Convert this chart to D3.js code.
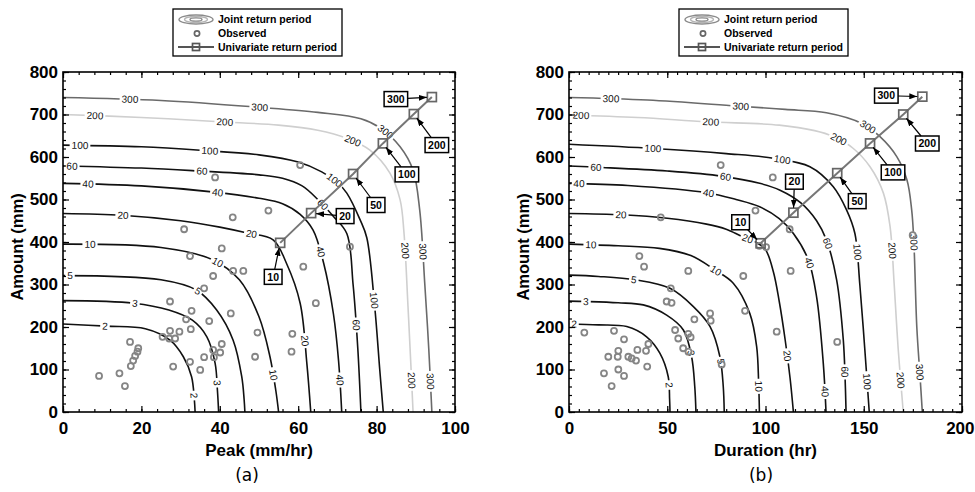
<!DOCTYPE html>
<html>
<head>
  <title>Joint return period contours</title>
  <style type="text/css">
    body { margin: 0; background: #fff; }
    svg { display: block; font-family: "Liberation Sans", Arial, sans-serif; }
  </style>
</head>
<body>

<div id="chart"></div>

<script src="https://cdn.jsdelivr.net/npm/d3@7/dist/d3.min.js"></script>
<script type="text/javascript">
// ---- data ----
var amountTicks = [0, 100, 200, 300, 400, 500, 600, 700, 800];
var peakTicks = [0, 20, 40, 60, 80, 100];
var durationTicks = [0, 50, 100, 150, 200];

var contourLevels = [2, 3, 5, 10, 20, 40, 60, 100, 200, 300];

// (a) peak (mm/hr) vs amount (mm), one line per level
var peakContours = [
  [[0,207],[11,202],[21,196],[27.3,169],[30.7,130],[32.8,83],[33.5,30],[33.7,0]],
  [[0,262],[18,256],[27,240],[33,216],[36.7,177],[38.8,115],[39.4,50],[39.7,0]],
  [[0,321],[25,311],[34,287],[39.2,240],[43.4,169],[45.6,83],[46.2,30],[46.4,0]],
  [[0,395],[25,387],[38,359],[45,311],[50,224],[52.8,130],[54.3,50],[55,0]],
  [[0,467],[15,463],[30,450],[40,435],[47,421],[53.6,405],[57,350],[60.5,256],[62.2,115],[63.2,0]],
  [[0,538],[20,532],[38,518],[50,503],[56,490],[60.5,465],[63.8,428],[66.5,350],[69,230],[70.3,120],[71.1,0]],
  [[0,579],[20,574],[33,568],[50,558],[56,550],[61,532],[65,500],[69,460],[72.4,420],[74,300],[75.2,150],[76,0]],
  [[0,628],[20,624],[35,616],[50,605],[60,588],[66,565],[70,540],[72.4,515],[75.8,452],[77.5,410],[79.5,250],[80.8,100],[81.7,0]],
  [[0,700],[20,693],[40,683],[55,675],[65,663],[72.4,644],[78.3,616],[83.4,562],[86,499],[87,420],[88,250],[88.8,100],[89.3,0]],
  [[0,740],[25,733],[50,717],[65,705],[76,690],[81,668],[86,624],[89.3,569],[91,475],[92.3,300],[93.3,150],[94.1,0]]
];

// (b) duration (hr) vs amount (mm)
var durationContours = [
  [[0,207],[15,205],[29.4,201],[39.5,177],[46.3,138],[50.5,83],[51.2,30],[51.4,0]],
  [[0,261],[9,260],[25,257],[37.8,252],[49.7,228],[58.2,193],[62.4,130],[64,60],[64.6,0]],
  [[0,322],[15,319],[33.6,311],[51.4,291],[63.3,248],[71.8,201],[76.8,130],[78.5,60],[79,0]],
  [[0,395],[25,391],[46,385],[62,368],[74.3,334],[83.6,303],[92,232],[95.5,154],[96.5,70],[96.9,0]],
  [[0,467],[27,464],[50,456],[70,442],[80,430],[88,413],[95,400],[100,382],[104,330],[107,260],[110,170],[112.5,80],[114.2,0]],
  [[0,538],[30,533],[70,516],[85,500],[97,483],[107,455],[114.2,420],[121.8,358],[126,271],[129.4,115],[130.8,0]],
  [[0,579],[14,576],[50,567],[77.7,555],[97,538],[107.4,522],[118,492],[126,450],[131,405],[136.2,311],[139.6,169],[140.5,80],[141,0]],
  [[0,630],[43,620],[80,608],[104,597],[122.6,577],[134.5,530],[141.3,475],[145.5,420],[148,300],[150.5,150],[152.8,0]],
  [[0,699],[35,693],[70,683],[107,675],[125,662],[134.5,648],[144.7,620],[153.2,577],[160,515],[163.4,436],[165.5,300],[167.5,150],[170.1,0]],
  [[0,740],[40,734],[85,720],[110,712],[131,704],[149,679],[158,649],[166.8,601],[172,546],[174.4,475],[175.5,400],[177,200],[178.7,80],[179.8,0]]
];

var peakObserved = [
  [40.5,385],[32.4,367],[43.4,332],[46,332],[38.3,320],[36,291],[27.3,260],[32.8,238],[31.4,218],
  [37.3,214],[42.8,232],[27.3,191],[32.6,195],[29.7,189],[25.4,177],[27.1,173],[28.6,173],[49.6,187],
  [17.1,165],[40.5,160],[19.2,150],[38.3,146],[19,142],[40.1,140],[38.5,129],[18.4,132],[36,129],
  [49,130],[17.9,121],[32.4,118],[17.3,108],[28.1,107],[35,99],[14.4,91],[9.2,85],[15.8,61],
  [38.8,552],[52.4,474],[43.3,458],[30.9,430],[60.5,581],[73.2,389],[61.3,342],[64.5,256],[58.5,184],[58.3,142]
];

var durationObserved = [
  [35.8,367],[38.2,342],[60.7,332],[88.7,320],[51.8,291],[49.7,260],[52.2,257],[71.8,232],[72.1,215],
  [63.8,218],[89.6,238],[105.7,189],[7.8,187],[22.9,191],[28,171],[54,193],[55.6,173],[60.7,184],
  [61.9,176],[40.4,160],[39.2,144],[34.8,146],[25.1,144],[58.1,150],[60.8,142],[20,130],[24.8,130],
  [30.2,130],[31.9,126],[34.1,121],[39.8,107],[25.1,100],[17.8,91],[28,85],[21.7,61],[77.7,112],
  [96.9,391],[100.3,388],[77.2,581],[103.7,552],[46.7,458],[94.9,474],[112.3,430],[174.9,416],[112.8,332],[136.5,165]
];

var univariateLevels = [10, 20, 50, 100, 200, 300];
var peakUnivariate = [[55.4,398],[63.3,468],[74,560],[81.6,632],[89.5,701],[94.1,741]];
var durationUnivariate = [[97.5,397],[114.2,469],[136.5,562],[153.2,632],[170.1,700],[179.8,742]];

// ---- layout ----
var plotTop = 72, plotBottom = 412;
var panels = [
  { left: 63, right: 455, xMax: 100, xTicks: peakTicks, xMinor: 4,
    xTitle: "Peak (mm/hr)", tag: "(a)", tagX: 247,
    contours: peakContours, observed: peakObserved, univariate: peakUnivariate,
    labelStart: [42, 72, 7, 27, 60, 25, 9, 17, 32, 67],
    callouts: [[-7,34],[34,3],[23,31],[24,31],[23,31],[-36,2]] },
  { left: 569, right: 962, xMax: 200, xTicks: durationTicks, xMinor: 5,
    xTitle: "Duration (hr)", tag: "(b)", tagX: 761,
    contours: durationContours, observed: durationObserved, univariate: durationUnivariate,
    labelStart: [5, 17, 65, 22, 52, 10, 27, 84, 12, 42],
    callouts: [[-20,-21],[1,-31],[20,28],[23,29],[24,29],[-36,-1]] }
];

function contourColor(lev) {
  if (lev === 300) return "#6a6a6a";
  if (lev === 200) return "#cfcfcf";
  return "#111";
}

var svg = d3.select("#chart")
  .append("svg")
  .attr("width", 975)
  .attr("height", 492);

var defs = svg.append("defs");
defs.append("marker")
    .attr("id", "arrow")
    .attr("markerUnits", "userSpaceOnUse")
    .attr("markerWidth", 8).attr("markerHeight", 6)
    .attr("refX", 8).attr("refY", 3)
    .attr("orient", "auto")
  .append("path")
    .attr("d", "M0,0L8,3L0,6Z")
    .attr("fill", "#000");

panels.forEach(function (p, i) {
  var off = p.left - 63;
  var x = d3.scaleLinear().domain([0, p.xMax]).range([p.left, p.right]);
  var y = d3.scaleLinear().domain([0, 800]).range([plotBottom, plotTop]);
  var g = svg.append("g");

  defs.append("clipPath").attr("id", "clip" + i)
    .append("rect")
      .attr("x", p.left).attr("y", plotTop)
      .attr("width", p.right - p.left).attr("height", plotBottom - plotTop);

  var plot = g.append("g").attr("clip-path", "url(#clip" + i + ")");
  var lines = plot.append("g");
  var labels = plot.append("g");

  var line = d3.line()
    .x(function (d) { return x(d[0]); })
    .y(function (d) { return y(d[1]); })
    .curve(d3.curveCatmullRom.alpha(0.5));

  contourLevels.forEach(function (lev, k) {
    var path = lines.append("path")
      .datum(p.contours[k])
      .attr("d", line)
      .attr("fill", "none")
      .attr("stroke", contourColor(lev))
      .attr("stroke-width", 1.6);
    var node = path.node();
    var len = node.getTotalLength();
    for (var s = p.labelStart[k]; s < len - 6; s += 130) {
      var a = node.getPointAtLength(Math.max(0, s - 3));
      var b = node.getPointAtLength(Math.min(len, s + 3));
      var c = node.getPointAtLength(s);
      var ang = Math.atan2(b.y - a.y, b.x - a.x) * 180 / Math.PI;
      var lg = labels.append("g")
        .attr("transform", "translate(" + c.x + "," + c.y + ")rotate(" + ang + ")");
      var rect = lg.append("rect").attr("fill", "#fff");
      var t = lg.append("text")
        .attr("text-anchor", "middle")
        .attr("dy", "0.35em")
        .attr("font-size", 10)
        .attr("fill", "#111")
        .text(lev);
      var tw = t.node().getComputedTextLength();
      rect.attr("x", -tw / 2 - 2).attr("y", -4.5).attr("width", tw + 4).attr("height", 9);
    }
  });

  // observed events
  g.append("g")
    .selectAll("circle")
    .data(p.observed)
    .join("circle")
      .attr("cx", function (d) { return x(d[0]); })
      .attr("cy", function (d) { return y(d[1]); })
      .attr("r", 3)
      .attr("fill", "none")
      .attr("stroke", "#858585")
      .attr("stroke-width", 1.8);

  // univariate return period
  g.append("path")
    .datum(p.univariate)
    .attr("d", d3.line().x(function (d) { return x(d[0]); }).y(function (d) { return y(d[1]); }))
    .attr("fill", "none")
    .attr("stroke", "#777")
    .attr("stroke-width", 2);
  g.append("g")
    .selectAll("rect")
    .data(p.univariate)
    .join("rect")
      .attr("x", function (d) { return x(d[0]) - 4.5; })
      .attr("y", function (d) { return y(d[1]) - 4.5; })
      .attr("width", 9).attr("height", 9)
      .attr("fill", "none")
      .attr("stroke", "#666")
      .attr("stroke-width", 1.7);

  // callout boxes
  var co = g.append("g");
  p.univariate.forEach(function (d, k) {
    var sx = x(d[0]), sy = y(d[1]);
    var bx = sx + p.callouts[k][0], by = sy + p.callouts[k][1];
    var rect = co.append("rect").attr("fill", "#fff").attr("stroke", "#000").attr("stroke-width", 1.5);
    var t = co.append("text")
      .attr("x", bx).attr("y", by).attr("dy", "0.36em")
      .attr("text-anchor", "middle")
      .attr("font-size", 10.5).attr("font-weight", "bold")
      .text(univariateLevels[k]);
    var w = t.node().getComputedTextLength() + 6, h = 15;
    rect.attr("x", bx - w / 2).attr("y", by - h / 2).attr("width", w).attr("height", h);
    var vx = sx - bx, vy = sy - by, vl = Math.sqrt(vx * vx + vy * vy);
    var tt = Math.min(vx ? (w / 2) / Math.abs(vx) : 1e9, vy ? (h / 2) / Math.abs(vy) : 1e9);
    co.append("line")
      .attr("x1", bx + vx * tt).attr("y1", by + vy * tt)
      .attr("x2", sx - vx / vl * 5).attr("y2", sy - vy / vl * 5)
      .attr("stroke", "#000").attr("stroke-width", 1.2)
      .attr("marker-end", "url(#arrow)");
  });

  // axes and frame
  var axes = g.append("g");
  var minorX = d3.range(0, p.xMax + 1e-9, p.xMinor);
  var minorY = d3.range(0, 800 + 1e-9, 20);
  var bottomAxis = axes.append("g").attr("transform", "translate(0," + plotBottom + ")")
    .call(d3.axisBottom(x).tickValues(p.xTicks).tickSize(-6).tickPadding(10).tickFormat(d3.format("d")));
  axes.append("g").attr("transform", "translate(0," + plotBottom + ")")
    .call(d3.axisBottom(x).tickValues(minorX).tickSize(-3).tickFormat(""));
  axes.append("g").attr("transform", "translate(0," + plotTop + ")")
    .call(d3.axisTop(x).tickValues(p.xTicks).tickSize(-6).tickFormat(""));
  axes.append("g").attr("transform", "translate(0," + plotTop + ")")
    .call(d3.axisTop(x).tickValues(minorX).tickSize(-3).tickFormat(""));
  axes.append("g").attr("transform", "translate(" + p.left + ",0)")
    .call(d3.axisLeft(y).tickValues(amountTicks).tickSize(-6).tickPadding(5).tickFormat(d3.format("d")));
  axes.append("g").attr("transform", "translate(" + p.left + ",0)")
    .call(d3.axisLeft(y).tickValues(minorY).tickSize(-3).tickFormat(""));
  axes.append("g").attr("transform", "translate(" + p.right + ",0)")
    .call(d3.axisRight(y).tickValues(amountTicks).tickSize(-6).tickFormat(""));
  axes.append("g").attr("transform", "translate(" + p.right + ",0)")
    .call(d3.axisRight(y).tickValues(minorY).tickSize(-3).tickFormat(""));
  axes.selectAll(".domain").remove();
  axes.selectAll("line").attr("stroke", "#000").attr("stroke-width", 1.2);
  axes.selectAll("text")
    .attr("font-size", 17).attr("font-weight", "bold")
    .attr("font-family", "'Liberation Sans', Arial, sans-serif")
    .attr("fill", "#000");
  // keep the last x tick label inside the window
  bottomAxis.selectAll(".tick text")
    .filter(function (d) { return x(d) + 15 > 975; })
    .attr("text-anchor", "end").attr("x", function (d) { return 975 - 1 - x(d); });

  g.append("rect")
    .attr("x", p.left).attr("y", plotTop)
    .attr("width", p.right - p.left).attr("height", plotBottom - plotTop)
    .attr("fill", "none").attr("stroke", "#000").attr("stroke-width", 1.6);

  // titles
  g.append("text")
    .attr("transform", "translate(" + (17 + off) + "," + ((plotTop + plotBottom) / 2 + 5) + ")rotate(-90)")
    .attr("text-anchor", "middle").attr("dy", "0.35em")
    .attr("font-size", 16.5).attr("font-weight", "bold")
    .text("Amount (mm)");
  g.append("text")
    .attr("x", (p.left + p.right) / 2).attr("y", 456)
    .attr("text-anchor", "middle")
    .attr("font-size", 17).attr("font-weight", "bold")
    .text(p.xTitle);
  g.append("text")
    .attr("x", p.tagX).attr("y", 481)
    .attr("text-anchor", "middle")
    .attr("font-family", "'DejaVu Sans', sans-serif")
    .attr("font-size", 17)
    .text(p.tag);

  // legend
  var lg = g.append("g").attr("transform", "translate(" + off + ",0)");
  lg.append("rect")
    .attr("x", 173).attr("y", 9).attr("width", 169).attr("height", 47)
    .attr("fill", "#fff").attr("stroke", "#000").attr("stroke-width", 1.3);
  [[17, 4.5, "#8a8a8a"], [11.5, 3, "#b5b5b5"], [6, 1.6, "#8a8a8a"]].forEach(function (e) {
    lg.append("ellipse")
      .attr("cx", 196).attr("cy", 19.5).attr("rx", e[0]).attr("ry", e[1])
      .attr("fill", "none").attr("stroke", e[2]).attr("stroke-width", 1.4);
  });
  lg.append("circle")
    .attr("cx", 197).attr("cy", 33.5).attr("r", 2.6)
    .attr("fill", "none").attr("stroke", "#666").attr("stroke-width", 1.7);
  lg.append("line")
    .attr("x1", 178).attr("x2", 214).attr("y1", 47).attr("y2", 47)
    .attr("stroke", "#555").attr("stroke-width", 2);
  lg.append("rect")
    .attr("x", 192.5).attr("y", 43.5).attr("width", 7).attr("height", 7)
    .attr("fill", "none").attr("stroke", "#555").attr("stroke-width", 1.7);
  ["Joint return period", "Observed", "Univariate return period"].forEach(function (s, k) {
    lg.append("text")
      .attr("x", 218).attr("y", 19.5 + k * 14).attr("dy", "0.35em")
      .attr("font-size", 10.5).attr("font-weight", "bold")
      .text(s);
  });
});
</script>
</body>
</html>
